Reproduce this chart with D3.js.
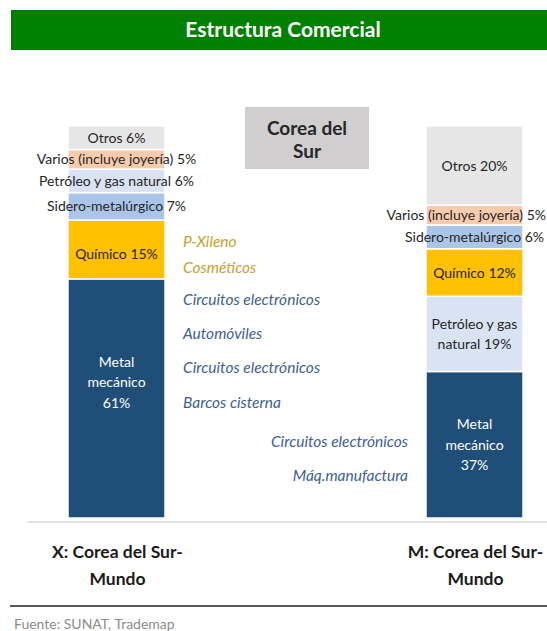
<!DOCTYPE html>
<html>
<head>
<meta charset="utf-8">
<script src="https://cdn.jsdelivr.net/npm/d3@7"></script>
<style>
  body { margin: 0; background: #fff; }
  svg { display: block; font-family: Lato, "Open Sans", sans-serif; }
</style>
</head>
<body>
<div id="chart"></div>
<script>
// columns (x axis)
var columns = ["X: Corea del Sur-|Mundo", "M: Corea del Sur-|Mundo"];

// exports, bottom to top
var xSectors = ["Metal mecánico", "Químico", "Sidero-metalúrgico", "Petróleo y gas natural", "Varios (incluye joyería)", "Otros"];
var xShares  = [61, 15, 7, 6, 5, 6];
var xLabels  = [["Metal", "mecánico", "61%"], ["Químico 15%"], ["Sidero-metalúrgico 7%"], ["Petróleo y gas natural 6%"], ["Varios (incluye joyería) 5%"], ["Otros 6%"]];

// imports, bottom to top
var mSectors = ["Metal mecánico", "Petróleo y gas natural", "Químico", "Sidero-metalúrgico", "Varios (incluye joyería)", "Otros"];
var mShares  = [37, 19, 12, 6, 5, 20];
var mLabels  = [["Metal", "mecánico", "37%"], ["Petróleo y gas", "natural 19%"], ["Químico 12%"], ["Sidero-metalúrgico 6%"], ["Varios (incluye joyería) 5%"], ["Otros 20%"]];

// main products by sector
var xQuimicoProducts = ["P-Xileno", "Cosméticos"];
var xMetalProducts   = ["Circuitos electrónicos", "Automóviles", "Circuitos electrónicos", "Barcos cisterna"];
var mMetalProducts   = ["Circuitos electrónicos", "Máq.manufactura"];

var width = 547, height = 631;
var barW = 97;

var colours = {
    "Metal mecánico": "#1f4e79",
    "Químico": "#ffc000",
    "Sidero-metalúrgico": "#abc5e8",
    "Petróleo y gas natural": "#dae3f3",
    "Varios (incluye joyería)": "#f8cbad",
    "Otros": "#e6e6e6"
};

var svg = d3.select("#chart").append("svg")
    .attr("width", width)
    .attr("height", height);

// title band
svg.append("rect")
    .attr("x", 11).attr("y", 10)
    .attr("width", width - 11).attr("height", 40)
    .style("fill", "#008000");
svg.append("text")
    .attr("x", 283).attr("y", 37)
    .attr("text-anchor", "middle")
    .style("font-size", "21px")
    .style("font-weight", "bold")
    .style("fill", "#fff")
    .text("Estructura Comercial");

// country box
svg.append("rect")
    .attr("x", 245).attr("y", 107)
    .attr("width", 124).attr("height", 62)
    .style("fill", "#d0cece");
svg.append("text")
    .attr("x", 307).attr("y", 135)
    .attr("text-anchor", "middle")
    .style("font-size", "19px")
    .style("font-weight", "bold")
    .style("fill", "#262626")
    .selectAll("tspan")
    .data(["Corea del", "Sur"])
    .enter().append("tspan")
    .attr("x", 307)
    .attr("dy", function(d, i) { return i ? 23 : 0; })
    .text(function(d) { return d; });

var xScale = d3.scalePoint()
    .domain(columns)
    .range([116.5, 474.5]);

var yScale = d3.scaleLinear()
    .domain([0, 1])
    .range([518, 126]);

function segments(sectors, shares, labels) {
    var total = d3.sum(shares);
    var ends = d3.cumsum(shares);
    return sectors.map(function(s, i) {
        return {
            sector: s,
            y0: (ends[i] - shares[i]) / total,
            y1: ends[i] / total,
            label: labels[i]
        };
    });
}

var cols = [
    { col: columns[0], segs: segments(xSectors, xShares, xLabels) },
    { col: columns[1], segs: segments(mSectors, mShares, mLabels) }
];

// light baseline
svg.append("line")
    .attr("x1", 27).attr("x2", width)
    .attr("y1", yScale(0) + 4).attr("y2", yScale(0) + 4)
    .style("stroke", "#e3e3e3")
    .style("stroke-width", 2);

var gCol = svg.selectAll("g.col")
    .data(cols)
    .enter().append("g")
    .attr("class", "col");

gCol.selectAll("rect")
    .data(function(d) { return d.segs.map(function(s) { s.col = d.col; return s; }); })
    .enter().append("rect")
    .attr("x", function(d) { return xScale(d.col) - barW / 2; })
    .attr("y", function(d) { return yScale(d.y1); })
    .attr("width", barW)
    .attr("height", function(d) { return yScale(d.y0) - yScale(d.y1); })
    .style("fill", function(d) { return colours[d.sector]; })
    .style("stroke", "#fff")
    .style("stroke-width", 1.5);

// segment labels
var lineH = 20.5;
gCol.each(function(c, ci) {
    var g = d3.select(this);
    c.segs.forEach(function(s, si) {
        var cx = xScale(c.col);
        var cy = (yScale(s.y0) + yScale(s.y1)) / 2;
        if (ci === 0 && si === 0) cy -= 16;
        if (ci === 0 && si === 1) cy += 5;
        var light = s.sector === "Metal mecánico";
        var t = g.append("text")
            .attr("text-anchor", "middle")
            .style("font-size", "14px")
            .style("fill", light ? "#fff" : "#262626");
        var n = s.label.length;
        s.label.forEach(function(line, li) {
            t.append("tspan")
                .attr("x", cx)
                .attr("y", cy + (li - (n - 1) / 2) * lineH + 5)
                .text(line);
        });
        // keep wide labels inside the page
        var bb = t.node().getBBox();
        if (bb.x + bb.width > width - 1) {
            t.attr("transform", "translate(" + (width - 1 - bb.x - bb.width) + ",0)");
        }
    });
});

// product annotations
function products(list, seg, x, anchor, start, step, colour) {
    svg.append("g").selectAll("text")
        .data(list)
        .enter().append("text")
        .attr("x", x)
        .attr("y", function(d, i) { return yScale(seg.y1) + start + i * step + 5; })
        .attr("text-anchor", anchor)
        .style("font-size", "15.5px")
        .style("font-style", "italic")
        .style("fill", colour)
        .text(function(d) { return d; });
}
var xQ = cols[0].segs[1], xM = cols[0].segs[0], mM = cols[1].segs[0];
var annX = xScale(columns[0]) + barW / 2 + 18;
products(xQuimicoProducts, xQ, annX, "start", 22, 26, "#caa02c");
products(xMetalProducts, xM, annX, "start", 21, 34.3, "#3e5f8f");
products(mMetalProducts, mM, xScale(columns[1]) - barW / 2 - 18, "end", 71, 34, "#3e5f8f");

// column names
svg.append("g").selectAll("text")
    .data(columns)
    .enter().append("text")
    .attr("text-anchor", "middle")
    .style("font-size", "17.5px")
    .style("font-weight", "bold")
    .style("fill", "#1a1a1a")
    .each(function(d) {
        var t = d3.select(this);
        d.split("|").forEach(function(line, li) {
            t.append("tspan")
                .attr("x", xScale(d) + 1)
                .attr("y", 558 + li * 27)
                .text(line);
        });
    });

// footer rule and source
svg.append("line")
    .attr("x1", 10).attr("x2", width)
    .attr("y1", 606).attr("y2", 606)
    .style("stroke", "#595959")
    .style("stroke-width", 2);
svg.append("text")
    .attr("x", 14).attr("y", 629)
    .style("font-size", "14px")
    .style("fill", "#8c8c8c")
    .text("Fuente: SUNAT, Trademap");
</script>
</body>
</html>
